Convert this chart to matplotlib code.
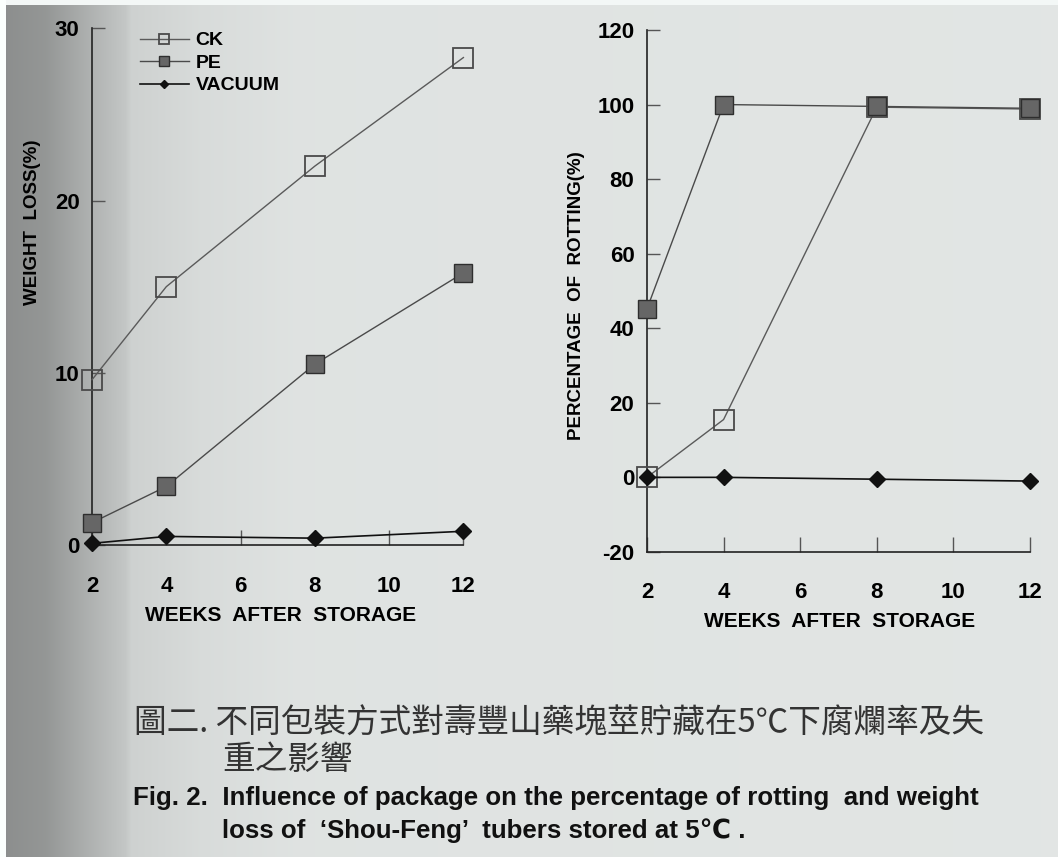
import numpy as np
import matplotlib
matplotlib.use("Agg")
import matplotlib.pyplot as plt

plt.rcParams['font.family'] = ['Liberation Sans', 'DejaVu Sans']
plt.rcParams['axes.unicode_minus'] = False

# data
weeks = [2, 4, 8, 12]
series = ['CK', 'PE', 'VACUUM']
loss_ck = [9.6, 15.0, 22.0, 28.3]
loss_pe = [1.3, 3.4, 10.5, 15.8]
loss_vac = [0.1, 0.5, 0.4, 0.8]
rot_ck = [0, 15.5, 99.3, 98.8]
rot_pe = [45.2, 100, 99.5, 99]
rot_vac = [0, 0, -0.5, -1]

xticks = [2, 4, 6, 8, 10, 12]
loss_ticks = [0, 10, 20, 30]
rot_ticks = [-20, 0, 20, 40, 60, 80, 100, 120]

styles = {
    'CK': dict(color='#5a5a5a', marker='s', ms=15, mfc='none', mec='#4a4a4a', mew=1.3, lw=1.0),
    'PE': dict(color='#4a4a4a', marker='s', ms=13, mfc='#666666', mec='#2e2e2e', mew=1.0, lw=1.0),
    'VACUUM': dict(color='#111111', marker='D', ms=8, mfc='#111111', mec='#111111', lw=1.2),
}

fig = plt.figure(figsize=(10.58, 8.57), dpi=100)

# scanned-page background: dark shading on the left edge
bg = fig.add_axes([0, 0, 1, 1], zorder=-10)
px = np.arange(1058)
g = np.interp(px, [0, 5, 6, 45, 125, 131, 200, 300, 1058],
              [1.0, 1.0, 0.56, 0.59, 0.78, 0.82, 0.86, 0.89, 0.90])
img = np.tile(g, (857, 1))
img[:5, 6:] = np.maximum(img[:5, 6:], 0.97)
rgb = np.dstack([img * 0.985, img, img * 0.995])
bg.imshow(np.clip(rgb, 0, 1), aspect='auto', extent=[0, 1, 0, 1])
bg.axis('off')


def style_axes(ax, ylim, yticks):
    ax.set_facecolor('none')
    ax.set_xlim(2, 12)
    ax.set_ylim(*ylim)
    ax.set_xticks(xticks)
    ax.set_yticks(yticks)
    for s in ['top', 'right']:
        ax.spines[s].set_visible(False)
    for s in ['left', 'bottom']:
        ax.spines[s].set_linewidth(1.2)
        ax.spines[s].set_color('#222222')
    ax.tick_params(axis='y', direction='in', length=9, width=1, pad=9,
                   labelsize=16, color='#555555')
    ax.tick_params(axis='x', direction='in', length=11, width=1, pad=22,
                   labelsize=16, color='#555555')
    for lab in ax.get_xticklabels() + ax.get_yticklabels():
        lab.set_fontweight('bold')


# left: weight loss
ax1 = fig.add_axes([0.087, 0.364, 0.351, 0.603])
style_axes(ax1, (0, 30), loss_ticks)
lines = []
for name, vals in zip(series, [loss_ck, loss_pe, loss_vac]):
    ln, = ax1.plot(weeks, vals, label=name, clip_on=False, zorder=3, **styles[name])
    lines.append(ln)
ax1.set_ylabel('WEIGHT  LOSS(%)', fontsize=13.5, fontweight='bold')
ax1.yaxis.set_label_coords(-0.137, 0.625)
ax1.set_xlabel('WEEKS  AFTER  STORAGE', fontsize=15, fontweight='bold')
ax1.xaxis.set_label_coords(0.507, -0.118)
ax1.legend(handles=lines, loc='upper left', bbox_to_anchor=(0.082, 1.027),
           frameon=False, markerscale=0.5, handlelength=2.5, handletextpad=0.35,
           labelspacing=0.25, prop=dict(size=14, weight='bold'))

# right: rotting percentage
ax2 = fig.add_axes([0.6115, 0.356, 0.362, 0.609])
style_axes(ax2, (-20, 120), rot_ticks)
for name, vals in zip(series, [rot_ck, rot_pe, rot_vac]):
    ax2.plot(weeks, vals, label=name, clip_on=False, zorder=3, **styles[name])
ax2.set_ylabel('PERCENTAGE  OF  ROTTING(%)', fontsize=13.5, fontweight='bold')
ax2.yaxis.set_label_coords(-0.162, 0.492)
ax2.set_xlabel('WEEKS  AFTER  STORAGE', fontsize=15, fontweight='bold')
ax2.xaxis.set_label_coords(0.504, -0.115)

# caption
cjk = ['Noto Sans CJK TC', 'DejaVu Sans']
fig.text(0.127, 0.156, '圖二. 不同包裝方式對壽豐山藥塊莖貯藏在5℃下腐爛率及失',
         fontsize=23.5, family=cjk, fontweight='light', color='#333333',
         va='center', ha='left')
fig.text(0.21, 0.113, '重之影響', fontsize=23.5, family=cjk, fontweight='light',
         color='#333333', va='center', ha='left')
fig.text(0.126, 0.069, 'Fig. 2.  Influence of package on the percentage of rotting  and weight',
         fontsize=18.6, fontweight='bold', color='#111111', va='center', ha='left')
fig.text(0.21, 0.031, 'loss of  \u2018Shou-Feng\u2019  tubers stored at 5\u2103 .',
         fontsize=18.6, fontweight='bold', color='#111111', va='center', ha='left')

fig.savefig('out.png', dpi=100)
